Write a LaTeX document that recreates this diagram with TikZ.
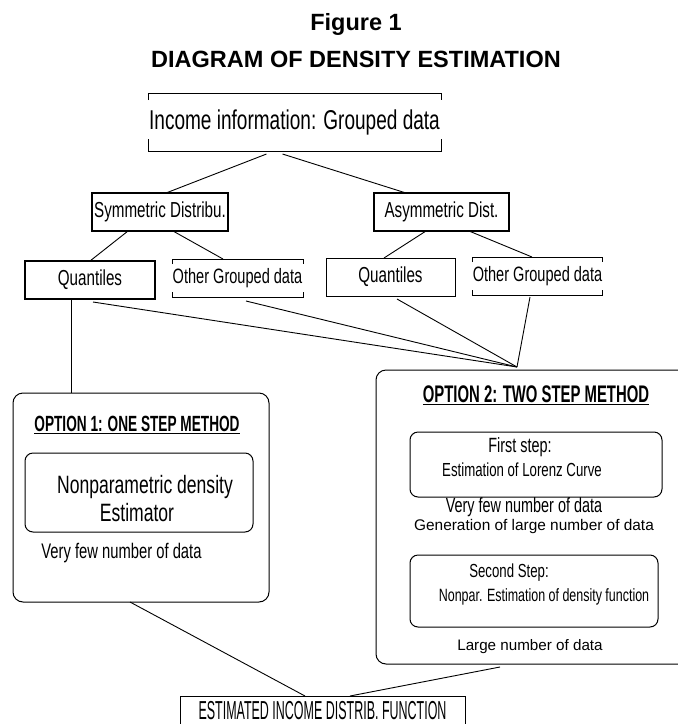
\documentclass[tikz,border=0pt]{standalone}
\usepackage{fontspec}
\setmainfont{Liberation Sans}
\newfontfamily\agency[FakeStretch=0.7]{Liberation Sans}
\newfontfamily\agencybold[FakeStretch=0.62]{Liberation Sans}
\newfontfamily\agencycaps[FakeStretch=0.48]{Liberation Sans}
\newcommand{\fs}[1]{\fontsize{#1}{#1}\selectfont}
\begin{document}
\begin{tikzpicture}[x=1pt,y=-1pt,
    every node/.style={inner sep=0pt,outer sep=0pt},
    plainbox/.style={minimum height=38pt,font=\agency\fs{21.7}},
    boxed/.style={plainbox,draw,line width=1.1pt},
    optbox/.style={draw,line width=1pt,rounded corners=10pt},
    stepbox/.style={draw,line width=1pt,rounded corners=8pt},
    link/.style={line width=0.9pt}]
            \clip (0,0) rectangle (678,724);
            % titles
            \node (fig) at (356,24) {\bfseries\fs{23.5}Figure 1};
            \node (head) at (356,59) {\bfseries\fs{23.5}DIAGRAM OF DENSITY ESTIMATION};
            % income information
            \node [minimum width=293pt,minimum height=58pt,font=\agency\fs{27.2}] (income) at (294.5,122) {Income information: Grouped data};
            \draw [line width=1pt] ([yshift=-7pt]income.north west) -- (income.north west) -- (income.north east) -- ([yshift=-7pt]income.north east);
            \draw [line width=1pt] ([yshift=12pt]income.south west) -- (income.south west) -- (income.south east) -- ([yshift=12pt]income.south east);
            % distributions
            \node [boxed,minimum width=136pt] (sym) at (160,212) {Symmetric Distribu.};
            \node [boxed,minimum width=135pt] (asym) at (441.5,212) {Asymmetric Dist.};
            \node [boxed,minimum width=130pt] (quant1) at (90,280) {Quantiles};
            \node [plainbox,minimum width=131pt,font=\agency\fs{20.8}] (other1) at (237.5,278) {Other Grouped data};
            \node [boxed,line width=0.8pt,minimum width=129pt] (quant2) at (390.5,277) {Quantiles};
            \node [plainbox,minimum width=129pt,font=\agency\fs{20.8}] (other2) at (537.5,276) {Other Grouped data};
            \foreach \n in {other1,other2}{
                \draw [line width=1pt] ([yshift=-5pt]\n.north west) -- (\n.north west) -- (\n.north east) -- ([yshift=-5pt]\n.north east);
                \draw [line width=1pt] ([yshift=5pt]\n.south west) -- (\n.south west) -- (\n.south east) -- ([yshift=5pt]\n.south east);
            }
            \draw [link] ([xshift=-28pt,yshift=-3pt]income.south) -- ([xshift=6pt]sym.north);
            \draw [link] ([xshift=-12pt,yshift=-3pt]income.south) -- ([xshift=-35.5pt]asym.north);
            \draw [link] ([xshift=-32pt]sym.south) -- (quant1.north);
            \draw [link] ([xshift=13pt]sym.south) -- ([xshift=-14.5pt]other1.north);
            \draw [link] ([xshift=-15.5pt]asym.south) -- ([xshift=-6.5pt]quant2.north);
            \draw [link] ([xshift=27.5pt]asym.south) -- ([xshift=-5.5pt]other2.north);
            % option boxes
            \node [optbox,minimum width=256pt,minimum height=209pt] (opt1) at (141,497.5) {};
            \node [optbox,minimum width=324pt,minimum height=294pt] (opt2) at (538,517) {};
            \coordinate (meet) at (517,367);
            \draw [link] ([xshift=3pt,yshift=-3pt]quant1.south) -- (meet);
            \draw [link] ([xshift=8.5pt,yshift=-4pt]other1.south) -- (meet);
            \draw [link] ([xshift=6.5pt,yshift=-3pt]quant2.south) -- (meet);
            \draw [link] ([xshift=-7.5pt,yshift=-2pt]other2.south) -- (meet);
            \draw [link] ([xshift=-19pt]quant1.south) -- ([xshift=-19pt]quant1.south |- opt1.north);
            % option 1
            \node [font=\agencybold\bfseries\fs{22}] (title1) at (137,425) {\underline{OPTION 1: ONE STEP METHOD}};
            \node [stepbox,minimum width=228pt,minimum height=79pt] (npde) at (139,492.5) {};
            \node [font=\agency\fs{25.1}] (np1) at (145,487) {Nonparametric density};
            \node [font=\agency\fs{25.1}] (np2) at (137,513) {Estimator};
            \node [font=\agency\fs{21.1}] (few1) at (121.5,553) {Very few number of data};
            % option 2
            \node [font=\agencybold\bfseries\fs{24}] (title2) at (536,395) {\underline{OPTION 2: TWO STEP METHOD}};
            \node [stepbox,minimum width=252pt,minimum height=65pt] (first) at (536,464.5) {};
            \node [font=\agency\fs{20.6}] (f1) at (520,447) {First step:};
            \node [font=\agency\fs{18.9}] (f2) at (522,470) {Estimation of Lorenz Curve};
            \node [font=\agency\fs{20.6}] (few2) at (524,507) {Very few number of data};
            \node [font=\fs{15.4}] (gen) at (534,527) {Generation of large number of data};
            \node [stepbox,minimum width=248pt,minimum height=72pt] (second) at (534,591) {};
            \node [font=\agency\fs{18.9}] (s1) at (509,573) {Second Step:};
            \node [font=\agency\fs{17.8}] (s2) at (544,597) {Nonpar. Estimation of density function};
            \node [font=\fs{15.2}] (large) at (530,647) {Large number of data};
            % result
            \node [draw,line width=1pt,minimum width=285pt,minimum height=30pt,font=\agencycaps\fs{26}] (est) at (322.5,711) {ESTIMATED INCOME DISTRIB. FUNCTION};
            \draw [link] ([xshift=-11pt]opt1.south) -- ([xshift=-17.5pt]est.north);
            \draw [link] ([xshift=-38pt,yshift=-3pt]opt2.south) -- ([xshift=27.5pt]est.north);
        \end{tikzpicture}
\end{document}
